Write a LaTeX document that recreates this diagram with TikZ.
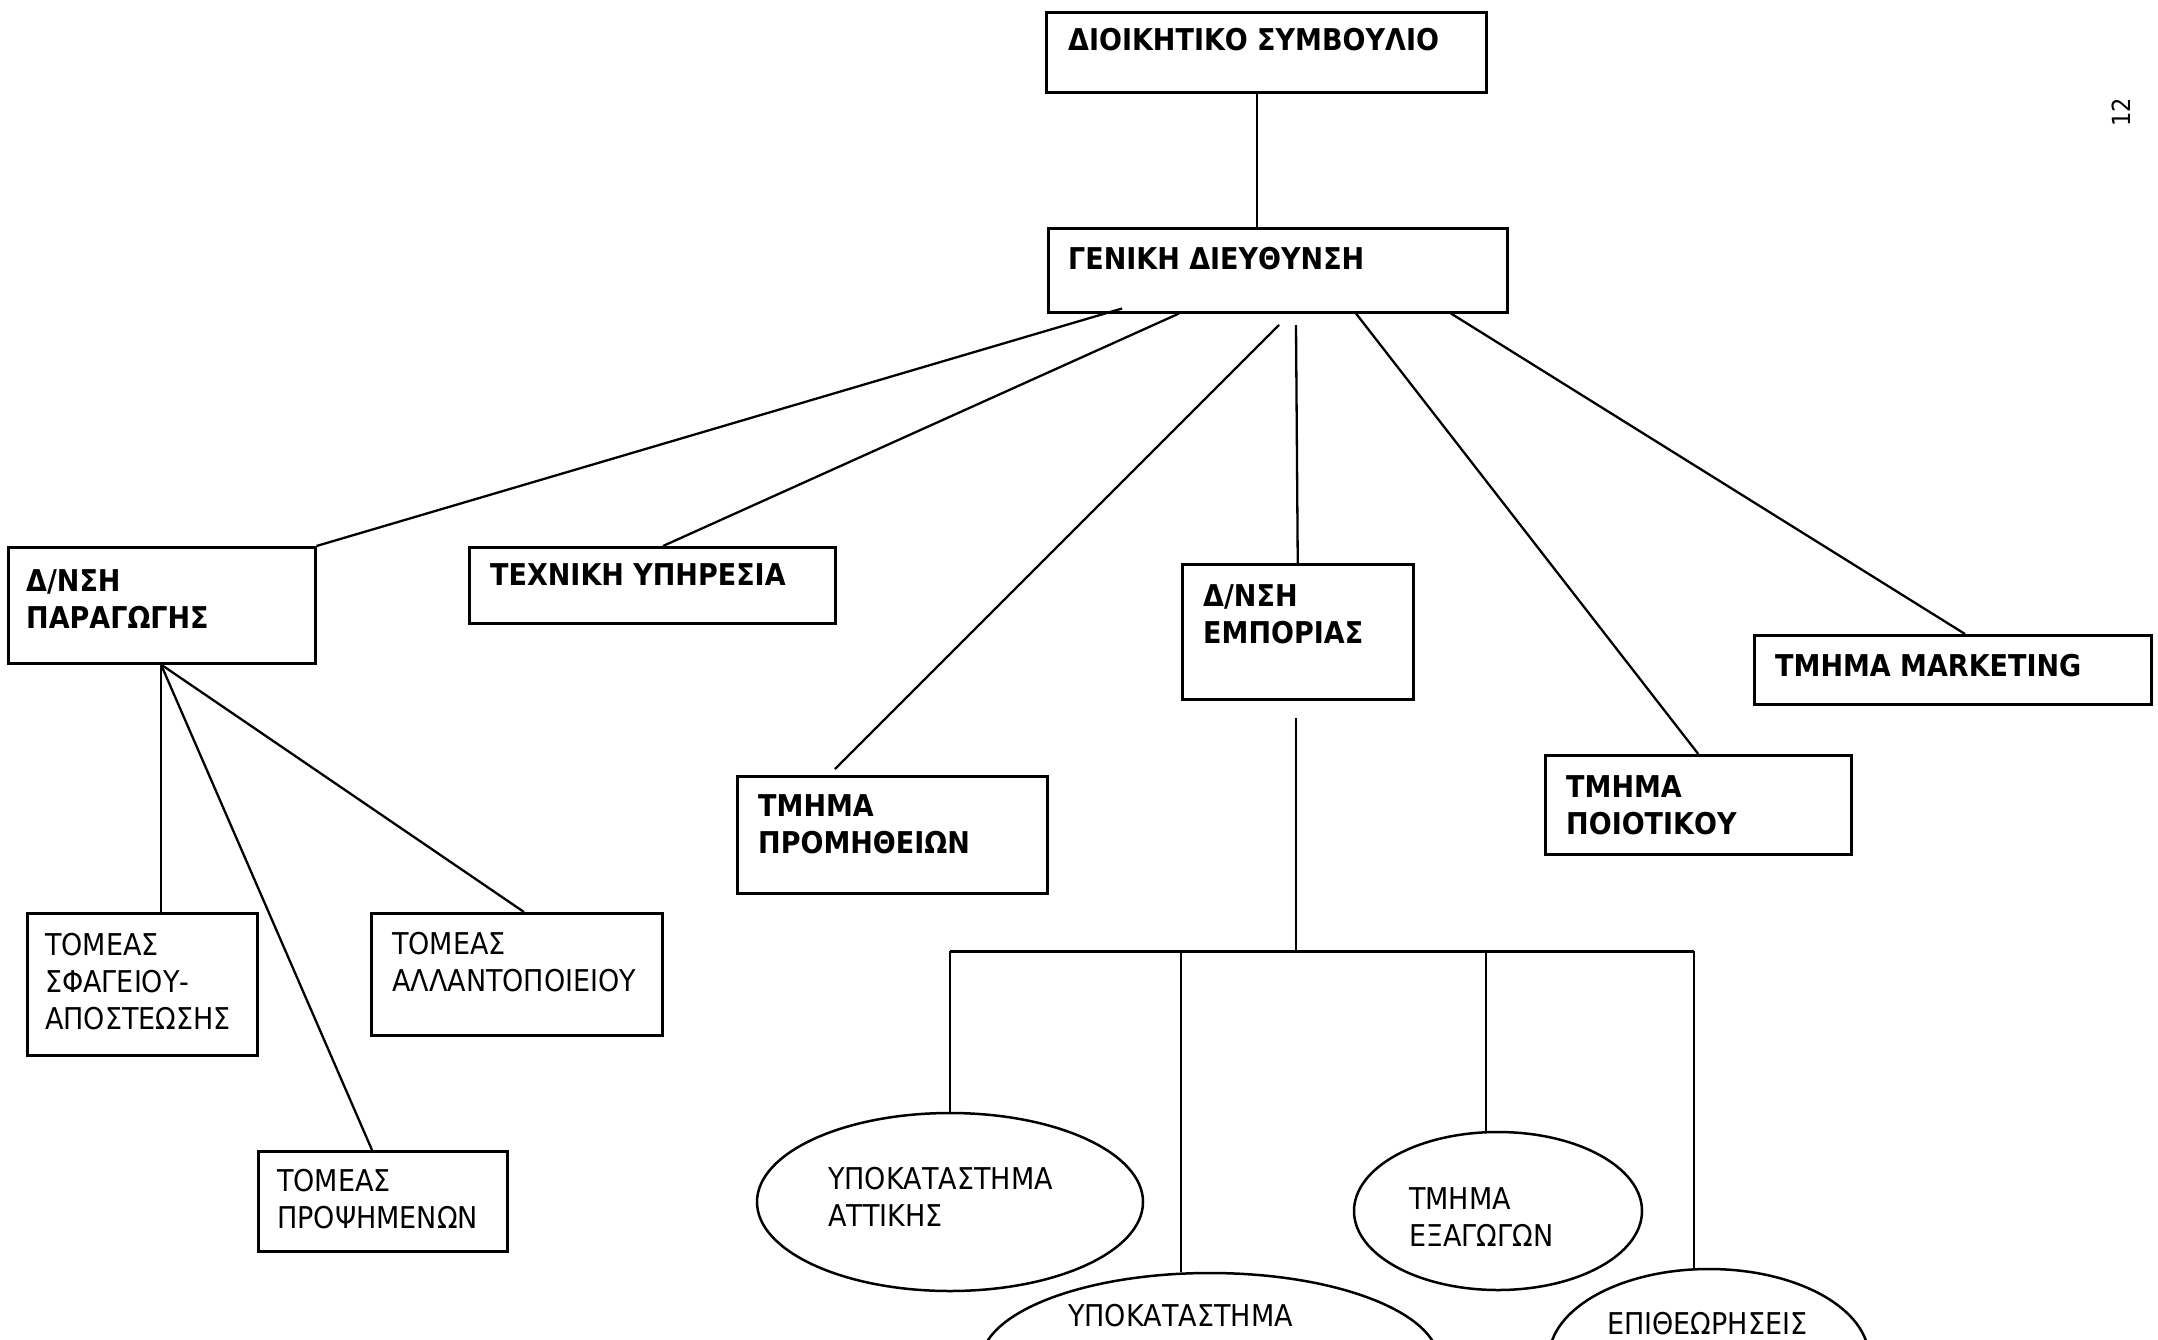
\documentclass[tikz,border=0pt]{standalone}
\usepackage{fontspec}
\setmainfont{DejaVu Sans Condensed}
\usetikzlibrary{shapes.geometric}
\begin{document}
\begin{tikzpicture}[x=1pt,y=-1pt,
  box/.style={draw, line width=2.5pt, rectangle, anchor=north west, inner sep=0pt},
  oval/.style={draw, line width=2.5pt, ellipse, inner sep=0pt},
  bt/.style={anchor=north west, inner sep=0pt, align=left, font=\fontsize{30}{37}\selectfont\bfseries},
  rt/.style={anchor=north west, inner sep=0pt, align=left, font=\fontsize{30}{37}\selectfont},
  link/.style={line width=2.3pt},
  bus/.style={line width=3pt}]
\useasboundingbox (0,0) rectangle (2158,1339);
\fill[white] (0,0) rectangle (2158,1339);
\clip (0,0) rectangle (2158,1339);

% boxes
\node[box, minimum width=440pt, minimum height=80pt] (ds) at (1045,11) {};
\node[box, minimum width=459pt, minimum height=84pt] (gd) at (1047,227) {};
\node[box, minimum width=307pt, minimum height=116pt] (par) at (7,546) {};
\node[box, minimum width=366pt, minimum height=76pt] (tex) at (468,546) {};
\node[box, minimum width=231pt, minimum height=135pt] (emp) at (1181,563) {};
\node[box, minimum width=310pt, minimum height=117pt] (prom) at (736,775) {};
\node[box, minimum width=306pt, minimum height=99pt] (poi) at (1544,754) {};
\node[box, minimum width=397pt, minimum height=69pt] (mkt) at (1753,634) {};
\node[box, minimum width=230pt, minimum height=142pt] (sfa) at (26,912) {};
\node[box, minimum width=291pt, minimum height=122pt] (all) at (370,912) {};
\node[box, minimum width=249pt, minimum height=100pt] (pro) at (257,1150) {};

% ellipses
\node[oval, minimum width=386pt, minimum height=178pt] (att) at (950,1202) {};
\node[oval, minimum width=288pt, minimum height=158pt] (exa) at (1498,1211) {};
\node[oval, minimum width=458pt, minimum height=178pt] (ypo) at (1210,1362) {};
\node[oval, minimum width=320pt, minimum height=178pt] (epi) at (1709,1358) {};

% texts
\node[bt] (tds) at (1068,28) {ΔΙΟΙΚΗΤΙΚΟ ΣΥΜΒΟΥΛΙΟ};
\node[bt] (tgd) at (1068,247) {ΓΕΝΙΚΗ ΔΙΕΥΘΥΝΣΗ};
\node[bt] (tpar) at (26,569) {Δ/ΝΣΗ\\ΠΑΡΑΓΩΓΗΣ};
\node[bt] (ttex) at (490,563) {ΤΕΧΝΙΚΗ ΥΠΗΡΕΣΙΑ};
\node[bt] (temp) at (1203,584) {Δ/ΝΣΗ\\ΕΜΠΟΡΙΑΣ};
\node[bt] (tprom) at (758,794) {ΤΜΗΜΑ\\ΠΡΟΜΗΘΕΙΩΝ};
\node[bt] (tpoi) at (1566,775) {ΤΜΗΜΑ\\ΠΟΙΟΤΙΚΟΥ};
\node[bt] (tmkt) at (1775,654) {ΤΜΗΜΑ MARKETING};
\node[rt] (tsfa) at (45,933) {ΤΟΜΕΑΣ\\ΣΦΑΓΕΙΟΥ-\\ΑΠΟΣΤΕΩΣΗΣ};
\node[rt] (tall) at (392,932) {ΤΟΜΕΑΣ\\ΑΛΛΑΝΤΟΠΟΙΕΙΟΥ};
\node[rt] (tpro) at (277,1169) {ΤΟΜΕΑΣ\\ΠΡΟΨΗΜΕΝΩΝ};
\node[rt] (tatt) at (828,1167) {ΥΠΟΚΑΤΑΣΤΗΜΑ\\ΑΤΤΙΚΗΣ};
\node[rt] (texa) at (1409,1187) {ΤΜΗΜΑ\\ΕΞΑΓΩΓΩΝ};
\node[rt] (typo) at (1068,1304) {ΥΠΟΚΑΤΑΣΤΗΜΑ};
\node[rt] (tepi) at (1607,1312) {ΕΠΙΘΕΩΡΗΣΕΙΣ};
\node[font=\fontsize{25}{25}\selectfont\rmfamily, rotate=90, inner sep=0pt] (pg) at (2121,112) {12};

% free connector ends
\coordinate (gdp) at (1279,325);
\coordinate (gde) at (1296,325);
\coordinate (eb) at (1296,718);
\coordinate (b1) at (950,951);
\coordinate (b2) at (1181,951);
\coordinate (b3) at (1486,951);
\coordinate (b4) at (1694,951);
\coordinate (prt) at (835,769);

% connectors
\draw[link] ([xshift=212pt]ds.south west) -- ([xshift=210pt]gd.north west);
\draw[link] ([shift={(75,-5)}]gd.south west) -- (par.north east);
\draw[link] ([xshift=132pt]gd.south west) -- ([xshift=195pt]tex.north west);
\draw[link] (gdp) -- (prt);
\draw[link] (gde) -- (emp.north);
\draw[link] ([xshift=309pt]gd.south west) -- (poi.north);
\draw[link] ([xshift=404pt]gd.south west) -- ([xshift=212pt]mkt.north west);
\draw[link] (eb) -- (b1 -| eb);
\draw[bus] (b1) -- (b4);
\draw[link] (b1) -- (att.north);
\draw[link] (b2) -- (b2 |- ypo.north);
\draw[link] (b3) -- (b3 |- exa.north);
\draw[link] (b4) -- (b4 |- epi.north);
\draw[link] ([xshift=154pt]par.south west) -- ([xshift=135pt]sfa.north west);
\draw[link] ([xshift=154pt]par.south west) -- ([xshift=115pt]pro.north west);
\draw[link] ([xshift=154pt]par.south west) -- ([xshift=154pt]all.north west);
\end{tikzpicture}
\end{document}
